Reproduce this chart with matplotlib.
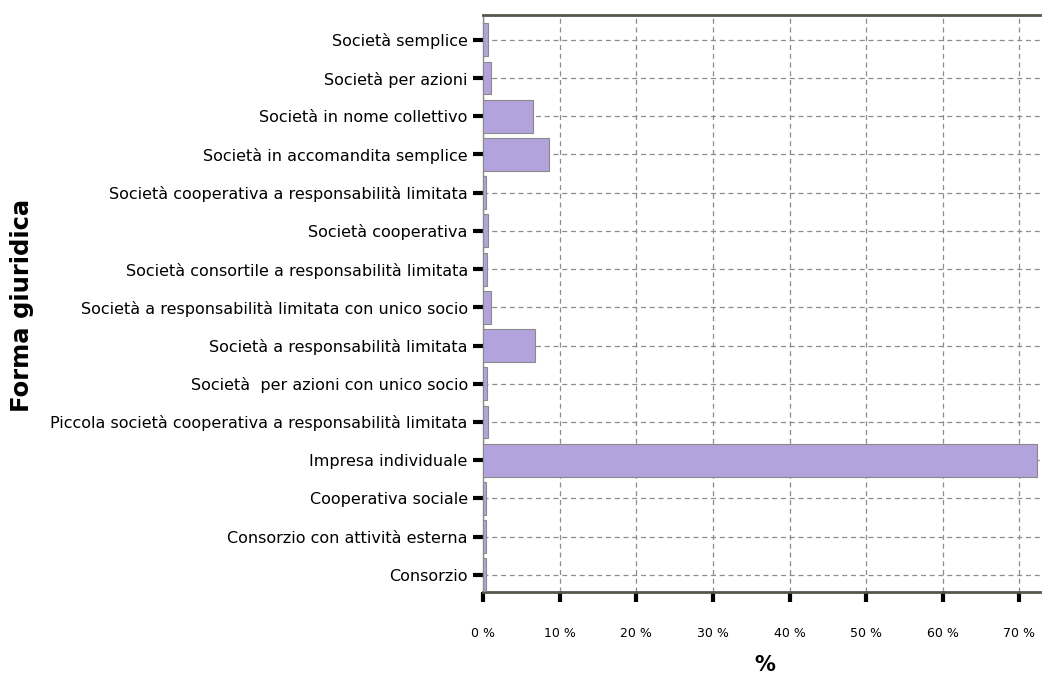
import numpy as np
import matplotlib.pyplot as plt

# categories from bottom to top
categorie = [
    "Consorzio",
    "Consorzio con attività esterna",
    "Cooperativa sociale",
    "Impresa individuale",
    "Piccola società cooperativa a responsabilità limitata",
    "Società  per azioni con unico socio",
    "Società a responsabilità limitata",
    "Società a responsabilità limitata con unico socio",
    "Società consortile a responsabilità limitata",
    "Società cooperativa",
    "Società cooperativa a responsabilità limitata",
    "Società in accomandita semplice",
    "Società in nome collettivo",
    "Società per azioni",
    "Società semplice",
]
percentuali = [0.4, 0.4, 0.4, 72.3, 0.6, 0.5, 6.8, 1.0, 0.5, 0.7, 0.4, 8.6, 6.5, 1.0, 0.7]
x_ticks = [0, 10, 20, 30, 40, 50, 60, 70]
x_labels = ["0 %", "10 %", "20 %", "30 %", "40 %", "50 %", "60 %", "70 %"]

fig = plt.figure(figsize=(10.46, 6.79), dpi=100)
ax = fig.add_axes([0.4618, 0.1281, 0.5325, 0.8498])

y = np.arange(len(categorie))
ax.barh(y, percentuali, height=0.86, color='#b3a3dc', edgecolor='#8a8a8a',
        linewidth=0.8, zorder=3)

ax.set_xlim(0, 72.7)
ax.set_ylim(-0.45, len(categorie) - 0.35)
ax.set_yticks(y)
ax.set_yticklabels(categorie, fontsize=11.5)
ax.set_xticks(x_ticks)
ax.set_xticklabels(x_labels, fontsize=9)
ax.tick_params(axis='both', length=7, width=3, color='black', direction='out', pad=4)
ax.tick_params(axis='x', pad=18)

ax.grid(True, linestyle=(0, (4, 3)), color='#8c8c8c', linewidth=0.9, zorder=0)

for s in ['top', 'bottom']:
    ax.spines[s].set_color('#55554a')
    ax.spines[s].set_linewidth(2)
ax.spines['left'].set_color('#8a8a8a')
ax.spines['left'].set_linewidth(1)
ax.spines['right'].set_visible(False)

ax.set_ylabel('Forma giuridica', fontsize=17.5, fontweight='bold')
ax.yaxis.set_label_coords(-0.806, 0.497)
ax.set_xlabel('%', fontsize=15, fontweight='bold')
ax.xaxis.set_label_coords(0.506, -0.109)

fig.savefig('out.png', dpi=100)
